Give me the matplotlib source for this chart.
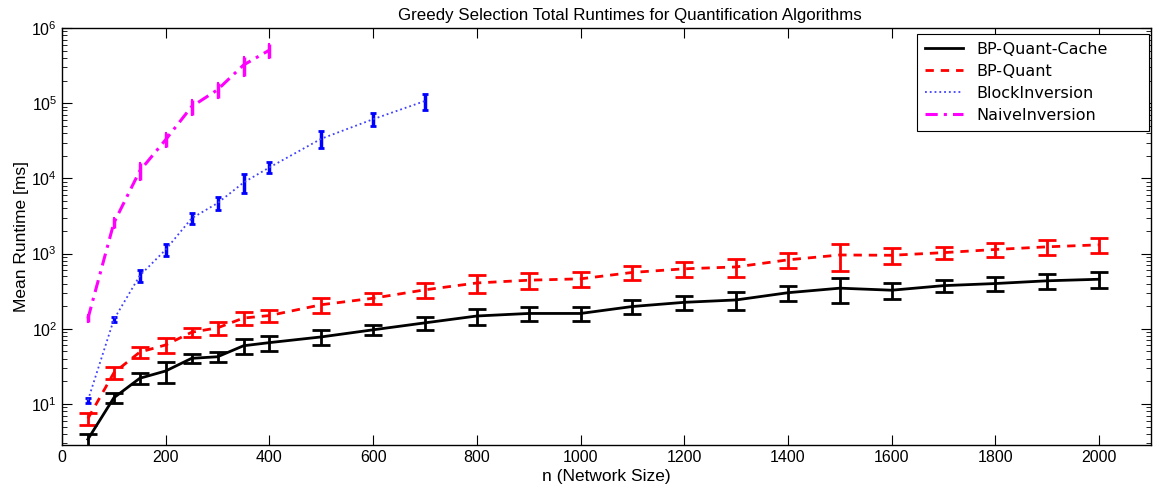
import numpy as np
import matplotlib
matplotlib.use("Agg")
import matplotlib.pyplot as plt
from matplotlib.ticker import LogLocator, NullFormatter

plt.rcParams['font.family'] = ['Liberation Sans', 'DejaVu Sans']
plt.rcParams['mathtext.default'] = 'regular'

# --- dati ---
n_lungo = [50, 100, 150, 200, 250, 300, 350, 400, 500, 600, 700, 800, 900, 1000,
           1100, 1200, 1300, 1400, 1500, 1600, 1700, 1800, 1900, 2000]

cache_media = [3.4, 12.1, 22, 27.5, 40.5, 42.5, 59.5, 65.5, 78, 97, 120, 148, 160, 160,
               198, 225, 242, 302, 347, 326, 375, 400, 435, 456]
cache_err = [0.6, 1.9, 3.7, 8.5, 5.5, 6.5, 13.5, 14.5, 17.5, 15, 23, 35, 34, 34,
             42, 48, 65, 67, 128, 78, 68, 85, 98, 110]

quant_media = [6.4, 26, 49, 61, 90, 103, 139, 150, 209, 255, 330, 407, 443, 462,
               562, 628, 665, 826, 959, 950, 1030, 1135, 1231, 1308]
quant_err = [1.2, 4.8, 8, 14, 12, 20, 27, 27, 47, 42, 74, 110, 107, 104,
             119, 142, 178, 186, 375, 225, 187, 239, 276, 296]

n_block = [50, 100, 150, 200, 250, 300, 350, 400, 500, 600, 700]
block_media = [11.2, 133, 510, 1130, 2950, 4690, 8800, 14000, 33700, 61300, 107000]
block_err = [0.9, 10, 93, 205, 490, 920, 2500, 2300, 8600, 12000, 27000]

n_naive = [50, 100, 150, 200, 250, 300, 350, 400]
naive_media = [137, 2560, 12600, 32800, 90000, 151000, 322000, 508000]
naive_err = [15, 390, 3200, 7000, 21000, 32000, 95000, 114000]

# --- grafico ---
fig = plt.figure(figsize=(11.55, 4.92), dpi=100)
ax = fig.add_axes([62/1155, 47/492, 1089/1155, 417/492])

# barre d'errore
ax.errorbar(n_lungo, cache_media, yerr=cache_err, fmt='none', ecolor='black',
            elinewidth=2, capsize=6.5, capthick=2, zorder=3)
ax.errorbar(n_lungo, quant_media, yerr=quant_err, fmt='none', ecolor='red',
            elinewidth=2, capsize=6.5, capthick=2, zorder=3)
ax.errorbar(n_block, block_media, yerr=block_err, fmt='none', ecolor='blue',
            elinewidth=2.5, capsize=2, capthick=2, zorder=3)
ax.errorbar(n_naive, naive_media, yerr=naive_err, fmt='none', ecolor='magenta',
            elinewidth=2.5, capsize=1, capthick=1.5, zorder=3)

# linee
ax.plot(n_lungo, cache_media, color='black', lw=2, ls='-', label='BP-Quant-Cache', zorder=4)
ax.plot(n_lungo, quant_media, color='red', lw=2, dashes=(3, 2.5), label='BP-Quant', zorder=4)
ax.plot(n_block, block_media, color='#4040ff', lw=1.3, ls=':', label='BlockInversion', zorder=4)
ax.plot(n_naive, naive_media, color='magenta', lw=2.2, dashes=(4, 2, 1, 2),
        label='NaiveInversion', zorder=4)

ax.set_yscale('log')
ax.set_xlim(0, 2100)
ax.set_ylim(2.85, 1e6)
ax.set_xticks(range(0, 2001, 200))
ax.yaxis.set_minor_locator(LogLocator(base=10, subs=np.arange(2, 10), numticks=100))
ax.yaxis.set_minor_formatter(NullFormatter())

ax.tick_params(which='both', direction='in', top=True, right=True, labelsize=11.5)
ax.tick_params(which='major', length=7)
ax.tick_params(which='minor', length=3.5)
for lato in ax.spines.values():
    lato.set_linewidth(1)

ax.set_title('Greedy Selection Total Runtimes for Quantification Algorithms',
             fontsize=12.2, x=0.5216)
ax.set_xlabel('n (Network Size)', fontsize=12.5, labelpad=3)
ax.set_ylabel('Mean Runtime [ms]', fontsize=12.5, labelpad=2)

# legenda larga come in MATLAB
leg = ax.legend(loc='upper left', bbox_to_anchor=(0.7851, 0.5, 0.2130, 0.4856),
                mode='expand', borderaxespad=0,
                prop={'family': 'DejaVu Sans', 'size': 11.5},
                fancybox=False, framealpha=1, edgecolor='black',
                handlelength=2.4, handletextpad=0.8, labelspacing=0.43, borderpad=0.5)
leg.get_frame().set_linewidth(0.8)

fig.savefig('out.png', dpi=100)
